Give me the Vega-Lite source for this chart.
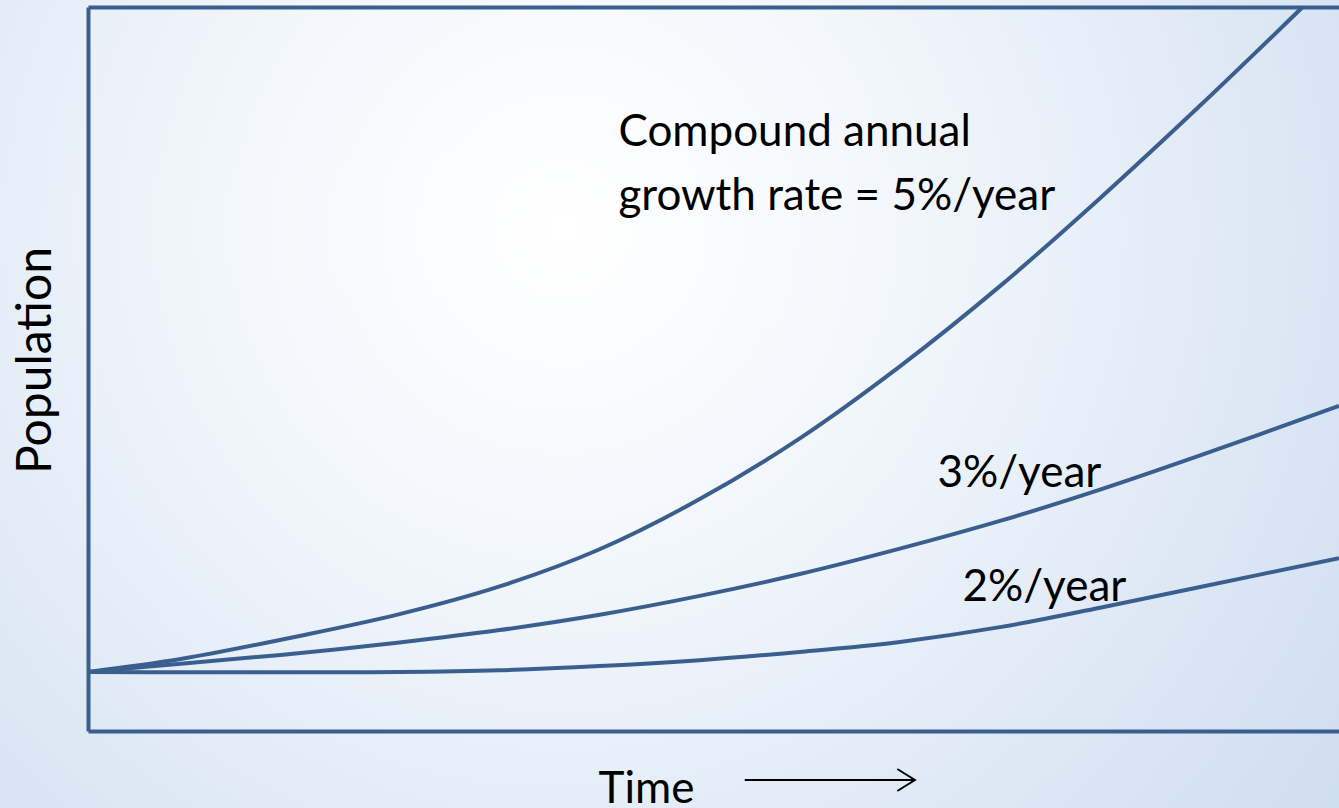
{
  "$schema": "https://vega.github.io/schema/vega-lite/v6.json",
  "width": 1251,
  "height": 724,
  "autosize": {"type": "none"},
  "padding": {"left": 88, "top": 7, "right": 0, "bottom": 77},
  "background": "#dce7f4",
  "config": {
    "view": {"stroke": null},
    "axis": {
      "domainColor": "#3A5F8F",
      "domainWidth": 4,
      "ticks": false,
      "labels": false,
      "grid": false,
      "titleFont": "Lato",
      "titleFontSize": 44,
      "titleFontWeight": "normal",
      "titleColor": "#000000"
    }
  },
  "datasets": {
    "curves": [
      {"rate": "5%/year", "time": 0, "population": 100},
      {"rate": "5%/year", "time": 7.4, "population": 122},
      {"rate": "5%/year", "time": 16.9, "population": 161},
      {"rate": "5%/year", "time": 24.9, "population": 198},
      {"rate": "5%/year", "time": 32.9, "population": 245},
      {"rate": "5%/year", "time": 40.9, "population": 308},
      {"rate": "5%/year", "time": 48.9, "population": 393},
      {"rate": "5%/year", "time": 56.9, "population": 496},
      {"rate": "5%/year", "time": 64.9, "population": 618},
      {"rate": "5%/year", "time": 72.9, "population": 754},
      {"rate": "5%/year", "time": 80.9, "population": 903},
      {"rate": "5%/year", "time": 88.9, "population": 1060},
      {"rate": "5%/year", "time": 97.1, "population": 1227},
      {"rate": "3%/year", "time": 0, "population": 100},
      {"rate": "3%/year", "time": 7.4, "population": 114},
      {"rate": "3%/year", "time": 15.4, "population": 129},
      {"rate": "3%/year", "time": 24.9, "population": 150},
      {"rate": "3%/year", "time": 32.9, "population": 171},
      {"rate": "3%/year", "time": 40.9, "population": 197},
      {"rate": "3%/year", "time": 48.9, "population": 229},
      {"rate": "3%/year", "time": 56.9, "population": 266},
      {"rate": "3%/year", "time": 64.9, "population": 309},
      {"rate": "3%/year", "time": 72.9, "population": 356},
      {"rate": "3%/year", "time": 80.9, "population": 409},
      {"rate": "3%/year", "time": 88.9, "population": 467},
      {"rate": "3%/year", "time": 100, "population": 551},
      {"rate": "2%/year", "time": 0, "population": 100},
      {"rate": "2%/year", "time": 8.9, "population": 99.5},
      {"rate": "2%/year", "time": 16.9, "population": 99.5},
      {"rate": "2%/year", "time": 24.9, "population": 100},
      {"rate": "2%/year", "time": 32.9, "population": 103},
      {"rate": "2%/year", "time": 40.9, "population": 110},
      {"rate": "2%/year", "time": 48.9, "population": 120},
      {"rate": "2%/year", "time": 56.9, "population": 134},
      {"rate": "2%/year", "time": 64.9, "population": 151},
      {"rate": "2%/year", "time": 72.9, "population": 176},
      {"rate": "2%/year", "time": 80.9, "population": 209},
      {"rate": "2%/year", "time": 88.9, "population": 244},
      {"rate": "2%/year", "time": 100, "population": 293}
    ],
    "labels": [
      {"label": "Compound annual\ngrowth rate = 5%/year", "time": 42.4, "population": 991},
      {"label": "3%/year", "time": 67.9, "population": 414},
      {"label": "2%/year", "time": 69.9, "population": 220}
    ]
  },
  "layer": [
    {
      "data": {"values": [{}]},
      "mark": {
        "type": "rect",
        "fill": {
          "gradient": "radial",
          "x1": 0.42, "y1": 0.37, "r1": 0,
          "x2": 0.42, "y2": 0.37, "r2": 0.75,
          "stops": [
            {"offset": 0, "color": "#ffffff"},
            {"offset": 0.3, "color": "#f4f8fc"},
            {"offset": 1, "color": "#cddcf0"}
          ]
        }
      },
      "encoding": {
        "x": {"datum": -7.2, "type": "quantitative", "scale": {"domain": [0, 100], "nice": false, "zero": false},
          "axis": {"orient": "top", "title": null, "zindex": 2}},
        "x2": {"datum": 100.3},
        "y": {"datum": -132, "type": "quantitative", "scale": {"domain": [0, 1227], "nice": false, "zero": false},
          "axis": {"orient": "left", "title": "Population", "zindex": 2, "titleFontSize": 48, "titleX": -38, "titleY": 353, "titleAngle": -90, "titleAlign": "center", "titleBaseline": "alphabetic"}},
        "y2": {"datum": 1241}
      }
    },
    {
      "data": {"name": "curves"},
      "mark": {"type": "line", "interpolate": "catmull-rom", "strokeWidth": 4, "color": "#3A5F8F"},
      "encoding": {
        "x": {"field": "time", "type": "quantitative", "scale": {"domain": [0, 100], "nice": false, "zero": false},
          "axis": {"orient": "bottom", "title": "Time", "zindex": 2, "titleX": 558, "titleY": 71, "titleAlign": "center", "titleBaseline": "alphabetic"}},
        "y": {"field": "population", "type": "quantitative", "scale": {"domain": [0, 1227], "nice": false, "zero": false}, "axis": null},
        "detail": {"field": "rate"}
      }
    },
    {
      "data": {"name": "labels"},
      "mark": {"type": "text", "align": "left", "baseline": "alphabetic", "font": "Lato", "fontSize": 44, "lineBreak": "\n", "lineHeight": 64, "color": "#000000"},
      "encoding": {
        "x": {"field": "time", "type": "quantitative", "axis": null},
        "y": {"field": "population", "type": "quantitative", "axis": null},
        "text": {"field": "label"}
      }
    },
    {
      "data": {"values": [{}]},
      "mark": {"type": "rule", "color": "#000000", "strokeWidth": 2},
      "encoding": {
        "x": {"datum": 52.5, "type": "quantitative", "axis": null},
        "x2": {"datum": 66.0},
        "y": {"datum": -83, "type": "quantitative", "axis": null}
      }
    },
    {
      "data": {"values": [{}]},
      "mark": {"type": "point", "shape": "M-1.6,-1L0,0L-1.6,1", "size": 484, "filled": false, "stroke": "#000000", "strokeWidth": 2, "opacity": 1},
      "encoding": {
        "x": {"datum": 66.1, "type": "quantitative", "axis": null},
        "y": {"datum": -83, "type": "quantitative", "axis": null}
      }
    }
  ],
  "resolve": {"axis": {"x": "independent", "y": "independent"}}
}
